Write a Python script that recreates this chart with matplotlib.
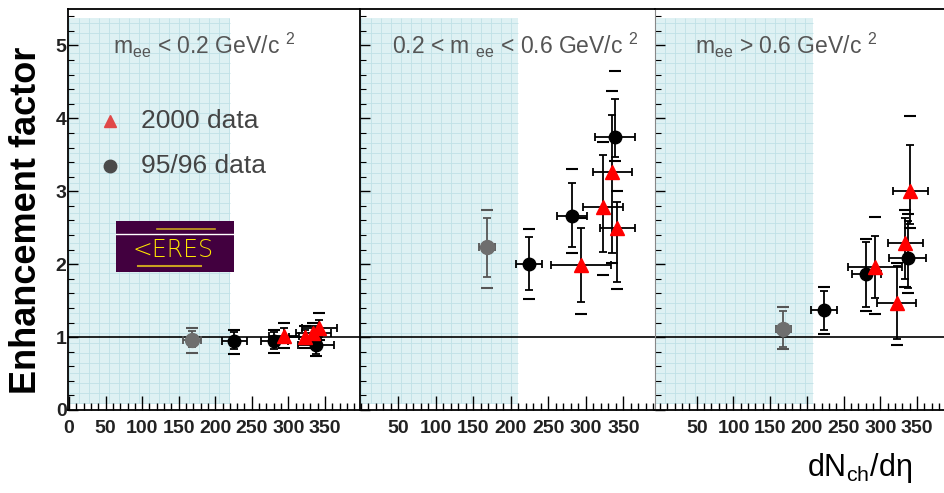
import numpy as np
import matplotlib.pyplot as plt
from matplotlib.patches import Rectangle
from matplotlib.ticker import MultipleLocator

plt.rcParams['font.family'] = ['Liberation Sans', 'DejaVu Sans']
plt.rcParams['mathtext.fontset'] = 'custom'
plt.rcParams['mathtext.rm'] = 'Liberation Sans'
plt.rcParams['mathtext.it'] = 'Liberation Sans'

# ---- data ----
titles = [r'm$_{\rm ee}$ < 0.2 GeV/c $^{2}$',
          r'0.2 < m $_{\rm ee}$ < 0.6 GeV/c $^{2}$',
          r'm$_{\rm ee}$ > 0.6 GeV/c $^{2}$']

# 95/96 data (one point per panel)
old_x = [168, 168, 168]
old_xerr = [12, 11, 10]
old_y = [0.96, 2.23, 1.11]
old_stat_up = [0.12, 0.40, 0.25]
old_stat_dn = [0.10, 0.41, 0.25]
old_sys_up = [0.16, 0.52, 0.30]
old_sys_dn = [0.18, 0.55, 0.28]

# 95/96 black points
blk_x = [[226, 281, 338], [224, 282, 339], [223, 281, 337]]
blk_xerr = [[17, 18, 25], [17, 20, 27], [18, 20, 25]]
blk_y = [[0.95, 0.95, 0.89], [2.00, 2.66, 3.74], [1.37, 1.86, 2.09]]
blk_stat_up = [[0.12, 0.12, 0.12], [0.37, 0.45, 0.53], [0.26, 0.44, 0.50]]
blk_stat_dn = [[0.12, 0.12, 0.12], [0.36, 0.43, 0.27], [0.27, 0.45, 0.42]]
blk_sys_up = [[0.15, 0.15, 0.16], [0.48, 0.65, 0.91], [0.32, 0.49, 0.60]]
blk_sys_dn = [[0.18, 0.17, 0.15], [0.48, 0.50, 0.33], [0.33, 0.50, 0.49]]

# 2000 data, red triangles
red_x = [[294, 323, 334, 342], [293, 323, 335, 342], [293, 322, 334, 341]]
red_xerr = [[20, 22, 24, 24], [40, 27, 26, 23], [37, 27, 24, 24]]
red_y = [[1.02, 1.00, 1.05, 1.12], [1.99, 2.78, 3.26, 2.50], [1.96, 1.47, 2.29, 3.00]]
red_stat_up = [[0.10, 0.10, 0.10, 0.12], [0.50, 0.72, 0.78, 0.35], [0.42, 0.50, 0.35, 0.64]]
red_stat_dn = [[0.10, 0.10, 0.10, 0.12], [0.51, 0.61, 1.10, 0.75], [0.43, 0.50, 0.50, 0.45]]
red_sys_up = [[0.18, 0.15, 0.15, 0.21], [0.65, 0.90, 1.12, 0.50], [0.69, 0.55, 0.45, 1.03]]
red_sys_dn = [[0.17, 0.15, 0.15, 0.16], [0.68, 0.93, 1.25, 0.84], [0.65, 0.58, 0.60, 0.50]]

shade_end = [220, 209, 208]
title_x = [60, 41, 48]

# panel placement (pixels of the 945x493 picture)
panel_left = [68, 360, 655]
panel_width = [292, 295, 290]
panel_xlim = [(-1.4, 398), (-1.3, 392), (-6.8, 388)]

W, H = 945, 493
fig = plt.figure(figsize=(W / 100, H / 100), dpi=100)

red = '#ff0000'
grey = '#6e6e6e'


def error_points(ax, x, y, xerr, su, sd, yu, yd, color, marker, ms, ecolor, z):
    x = np.array(x)
    y = np.array(y)
    ax.errorbar(x, y, xerr=xerr, yerr=[sd, su], fmt='none', ecolor=ecolor,
                elinewidth=1.3, capsize=3, capthick=1.3, zorder=z)
    # systematic errors only as short dashes
    ax.plot(x, y + np.array(yu), ls='none', marker='_', ms=8, mew=1.5,
            color=ecolor, zorder=z)
    ax.plot(x, y - np.array(yd), ls='none', marker='_', ms=8, mew=1.5,
            color=ecolor, zorder=z)
    ax.plot(x, y, ls='none', marker=marker, ms=ms, color=color,
            mec=color, zorder=z + 1)


axes = []
for i in range(3):
    ax = fig.add_axes([panel_left[i] / W, 1 - 410 / H, panel_width[i] / W, 401 / H])
    axes.append(ax)
    ax.set_xlim(*panel_xlim[i])
    ax.set_ylim(0, 5.5)

    # shaded acceptance region with a fine grid pattern
    x0 = panel_xlim[i][0] if i == 2 else 0
    ax.add_patch(Rectangle((x0, 0.1), shade_end[i] - x0, 5.28,
                           facecolor='#def1f3', edgecolor='none', zorder=0))
    px_x = (panel_xlim[i][1] - panel_xlim[i][0]) / panel_width[i]
    gx = np.arange(x0, shade_end[i], 10 * px_x)
    gy = np.arange(0.1, 5.38, 10 / 73)
    ax.vlines(gx, 0.1, 5.38, color='#bfe1e6', lw=0.6, zorder=0.5)
    ax.hlines(gy, x0, shade_end[i], color='#bfe1e6', lw=0.6, zorder=0.5)

    ax.axhline(1, color='black', lw=1.2, zorder=2)

    error_points(ax, [old_x[i]], [old_y[i]], [old_xerr[i]],
                 [old_stat_up[i]], [old_stat_dn[i]], [old_sys_up[i]], [old_sys_dn[i]],
                 grey, 'o', 10, '#555555', 3)
    error_points(ax, blk_x[i], blk_y[i], blk_xerr[i], blk_stat_up[i], blk_stat_dn[i],
                 blk_sys_up[i], blk_sys_dn[i], 'black', 'o', 9, 'black', 4)
    error_points(ax, red_x[i], red_y[i], red_xerr[i], red_stat_up[i], red_stat_dn[i],
                 red_sys_up[i], red_sys_dn[i], red, '^', 9.5, 'black', 6)

    ax.text(title_x[i], 4.88, titles[i], fontsize=16.5, color='#555555', zorder=8)

    ax.xaxis.set_major_locator(MultipleLocator(50))
    ax.xaxis.set_minor_locator(MultipleLocator(10))
    ax.yaxis.set_major_locator(MultipleLocator(1))
    ax.yaxis.set_minor_locator(MultipleLocator(0.2))
    ax.tick_params(axis='both', which='both', direction='in', top=False, right=False)
    ax.tick_params(axis='x', which='major', length=10, width=1, pad=7, labelsize=14)
    ax.tick_params(axis='x', which='minor', length=5, width=1)
    ax.tick_params(axis='y', which='major', length=7, width=1, pad=1, labelsize=14)
    ax.tick_params(axis='y', which='minor', length=4, width=0.8)

    xt = [0, 50, 100, 150, 200, 250, 300, 350] if i == 0 else [50, 100, 150, 200, 250, 300, 350]
    ax.set_xticks(xt)
    ax.set_xticklabels([str(v) for v in xt], fontweight='bold', color='#222222')
    if i > 0:
        ax.set_yticklabels([])
    else:
        ax.set_yticks([0, 1, 2, 3, 4, 5])
        ax.set_yticklabels(['0', '1', '2', '3', '4', '5'], fontweight='bold', color='#222222')

    ax.spines['right'].set_visible(False)
    for s in ['top', 'bottom', 'left']:
        ax.spines[s].set_linewidth(1.3)
    if i == 2:
        ax.spines['left'].set_color('#888888')
        ax.spines['left'].set_linewidth(0.8)

ax = axes[0]
# legend drawn by hand like the original
ax.plot([56], [3.96], ls='none', marker='^', ms=9, color='#e04848', zorder=8)
ax.plot([56], [3.34], ls='none', marker='o', ms=9, color='#4a4a4a', zorder=8)
ax.text(98, 3.96, '2000 data', fontsize=19, color='#444444', va='center', zorder=8)
ax.text(98, 3.34, '95/96 data', fontsize=19, color='#444444', va='center', zorder=8)

# CERES logo
ax.add_patch(Rectangle((64, 1.89), 161, 0.70, facecolor='#42003f',
                       edgecolor='none', zorder=9))
ax.plot([64, 225], [2.42, 2.42], color='white', lw=1, zorder=10)
ax.plot([95, 180], [1.97, 1.97], color='#c8a020', lw=1.5, zorder=10)
ax.plot([120, 200], [2.48, 2.48], color='#c8a020', lw=1.2, zorder=10)
ax.text(142, 2.2, '<ERES', fontsize=17, color='#ffe600', ha='center', va='center',
        family='DejaVu Sans', fontweight='light', zorder=10)

fig.text(27 / W, 1 - 220 / H, 'Enhancement factor', rotation=90, fontsize=26,
         fontweight='bold', ha='center', va='center')
fig.text(860 / W, 1 - 468 / H, r'dN$_{\rm ch}$/d$\eta$', fontsize=22,
         ha='center', va='center')

plt.savefig('out.png', dpi=100)
